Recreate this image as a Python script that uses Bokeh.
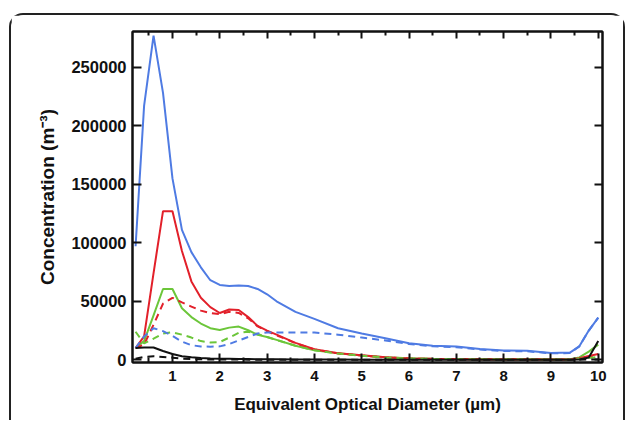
from bokeh.plotting import figure
from bokeh.models import LinearAxis, FixedTicker, Range1d, BasicTickFormatter
from bokeh.embed import file_html
from bokeh.resources import INLINE

# ---- data ----
diameter = [0.22, 0.4, 0.6, 0.8, 1.0, 1.2, 1.4, 1.6, 1.8, 2.0, 2.2, 2.4, 2.6, 2.8, 3.0, 3.2,
            3.6, 4.0, 4.5, 5.0, 5.5, 6.0, 6.5, 7.0, 7.5, 8.0, 8.5, 9.0, 9.4, 9.6, 9.8, 10.0]

blue_solid = [97000, 217000, 277000, 228000, 155000, 111000, 92000, 79000, 68000, 64000, 63000,
              63500, 63000, 60500, 56000, 50000, 41000, 35000, 27000, 22500, 18500, 14200, 12000,
              11400, 9200, 7900, 7700, 5800, 6200, 11500, 25000, 36000]
blue_dash = [10000, 20000, 27000, 24500, 20500, 15500, 12500, 11400, 11200, 11500, 13500, 16500,
             19500, 22500, 23300, 23300, 23300, 23300, 21500, 19000, 16500, 13500, 11500, 10800,
             8800, 7500, 7300, 5500, 5800, 11500, 25000, 36000]
red_solid = [10000, 20000, 74000, 127000, 127000, 93000, 67000, 53000, 45000, 40000, 43000, 42500,
             36500, 29000, 25000, 21500, 14500, 9000, 5600, 3800, 2200, 1200, 800, 600, 500, 400,
             400, 300, 300, 1400, 3300, 5000]
red_dash = [10000, 13000, 30000, 48000, 53000, 49000, 45500, 42000, 40000, 39000, 41000, 40000,
            35500, 28500, 24500, 21000, 14200, 8800, 5500, 3700, 2100, 1100, 700, 500, 400, 300,
            300, 200, 200, 1000, 2500, 4000]
green_solid = [10000, 16000, 38000, 60500, 60500, 44000, 36500, 31000, 27000, 25500, 27500, 28400,
               25300, 21300, 19500, 17000, 12000, 8200, 5500, 3600, 2200, 1300, 900, 700, 600, 500,
               500, 400, 400, 2000, 7000, 13000]
green_dash = [24000, 14000, 18000, 22500, 23500, 21500, 19000, 16000, 14800, 15200, 19000, 23000,
              24000, 22000, 19500, 17000, 12000, 8200, 5300, 3400, 2000, 1200, 800, 600, 500, 400,
              400, 300, 300, 800, 1500, 2500]
black_solid = [10000, 10500, 10500, 7500, 5000, 3000, 2100, 1600, 1200, 900, 800, 700, 600, 500,
               450, 400, 300, 250, 200, 150, 100, 100, 100, 100, 100, 100, 100, 100, 100, 300,
               2000, 16000]
black_dash = [1000, 2500, 3000, 2500, 1800, 1000, 600, 400, 300, 250, 200, 200, 150, 150, 100, 100,
              100, 100, 100, 100, 100, 100, 100, 100, 100, 100, 100, 100, 100, 100, 200, 300]

x_ticks = [1, 2, 3, 4, 5, 6, 7, 8, 9, 10]
x_minor = [0.5, 1.5, 2.5, 3.5, 4.5, 5.5, 6.5, 7.5, 8.5, 9.5]
y_ticks = [0, 50000, 100000, 150000, 200000, 250000]
x_title = "Equivalent Optical Diameter (\u00b5m)"
y_title = "Concentration (m\u207b\u00b3)"

BLUE = "#4f7be3"
RED = "#e2202a"
GREEN = "#6cc63a"
BLACK = "#111111"
FONT = "Liberation Sans"

p = figure(width=616, height=407, output_backend="svg", toolbar_location=None,
           x_range=Range1d(0.155, 10.09), y_range=Range1d(-2300, 280500),
           min_border_left=121, min_border_right=25, min_border_top=16, min_border_bottom=60)
# rounded panel border (top/left/right visible, bottom runs off the page)
p.styles = {"margin-left": "9px", "margin-top": "13px",
            "border-top": "2px solid #222222", "border-left": "2px solid #222222",
            "border-right": "2px solid #222222", "border-radius": "14px 14px 0 0"}
p.xgrid.visible = False
p.ygrid.visible = False
p.outline_line_color = BLACK
p.outline_line_width = 2
p.background_fill_color = "white"
p.border_fill_color = "white"

def style_axis(ax, labels=True):
    ax.axis_line_color = BLACK
    ax.axis_line_width = 2
    ax.major_tick_line_color = BLACK
    ax.major_tick_line_width = 2
    ax.minor_tick_line_color = BLACK
    ax.minor_tick_line_width = 2
    ax.major_tick_in = 9
    ax.major_tick_out = 0
    ax.minor_tick_in = 5
    ax.minor_tick_out = 0
    ax.major_label_text_font = FONT
    ax.major_label_text_font_style = "bold"
    ax.major_label_text_color = BLACK
    ax.axis_label_text_font = FONT
    ax.axis_label_text_font_style = "bold"
    ax.axis_label_text_color = BLACK
    if not labels:
        ax.major_label_text_font_size = "1px"
        ax.major_label_text_color = None
        ax.major_label_standoff = 0

xa = p.xaxis[0]
xa.ticker = FixedTicker(ticks=x_ticks, minor_ticks=x_minor)
style_axis(xa)
xa.major_label_text_font_size = "15px"
xa.major_label_standoff = 8
xa.axis_label = x_title
xa.axis_label_text_font_size = "17px"
xa.axis_label_standoff = 11

ya = p.yaxis[0]
ya.ticker = FixedTicker(ticks=y_ticks, minor_ticks=[])
ya.formatter = BasicTickFormatter(use_scientific=False)
style_axis(ya)
ya.major_label_text_font_size = "16.5px"
ya.major_label_standoff = 6
ya.axis_label = y_title
ya.axis_label_text_font_size = "19px"
ya.axis_label_standoff = 10

top = LinearAxis(ticker=FixedTicker(ticks=x_ticks, minor_ticks=x_minor))
style_axis(top, labels=False)
top.major_tick_in = 7
top.minor_tick_in = 4
p.add_layout(top, "above")

right = LinearAxis(ticker=FixedTicker(ticks=y_ticks, minor_ticks=[]))
style_axis(right, labels=False)
right.major_tick_in = 8
p.add_layout(right, "right")

LW = 2
DASH = "7 5"
p.line(diameter, green_solid, color=GREEN, line_width=LW)
p.line(diameter, red_dash, color=RED, line_width=LW, line_dash=DASH)
p.line(diameter, red_solid, color=RED, line_width=LW)
p.line(diameter, green_dash, color=GREEN, line_width=LW, line_dash=DASH)
p.line(diameter, blue_dash, color=BLUE, line_width=LW, line_dash=DASH)
p.line(diameter, blue_solid, color=BLUE, line_width=LW)
p.line(diameter, black_solid, color=BLACK, line_width=LW)
p.line(diameter, black_dash, color=BLACK, line_width=LW, line_dash=DASH)

open("out.html", "w").write(file_html(p, INLINE))
